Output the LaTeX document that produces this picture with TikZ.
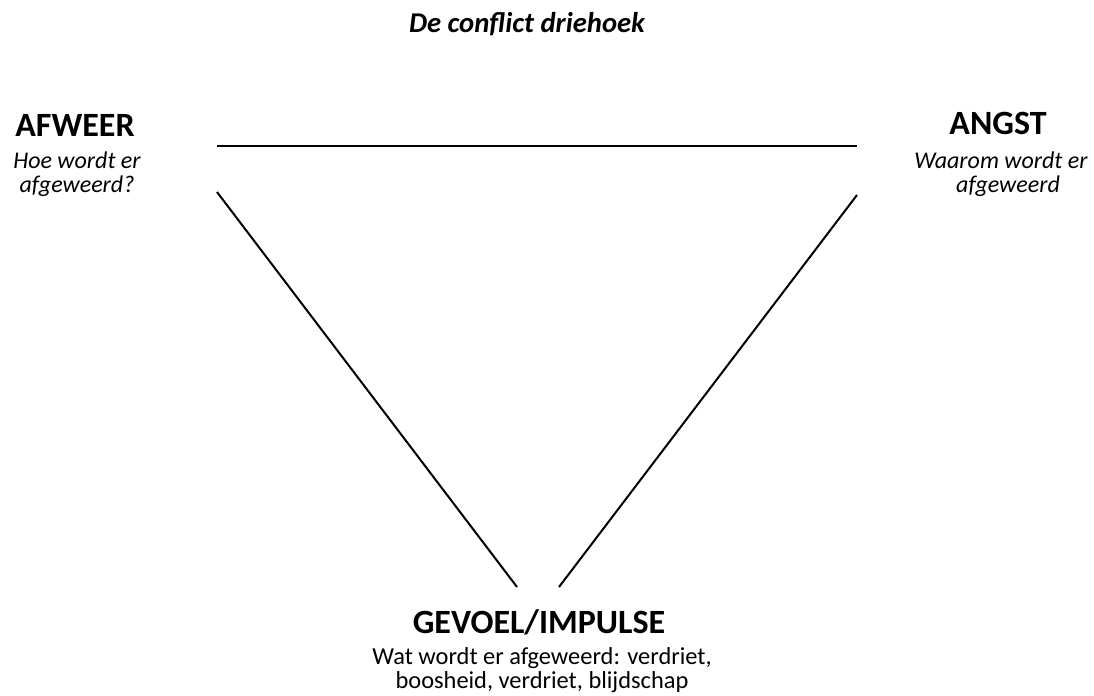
\documentclass[tikz,border=0pt]{standalone}
\usepackage{fontspec}
\setmainfont{Carlito}
\usepackage{tikz}

\begin{document}
\begin{tikzpicture}[x=0.75pt,y=-0.75pt,line width=1.5pt]

\useasboundingbox (0,0) rectangle (1094,695);

% Title
\node[anchor=base,font=\fontsize{21.5}{24}\selectfont\bfseries\itshape] (title) at (527,33){De conflict driehoek};

% Corner labels
\node[anchor=base,font=\fontsize{25.5}{30}\selectfont\bfseries] (afweer) at (75,137){AFWEER};
\node[anchor=base,font=\fontsize{18}{20}\selectfont\itshape] (afweer1) at (77,169){Hoe wordt er};
\node[anchor=base,font=\fontsize{18}{20}\selectfont\itshape] (afweer2) at (77,193){afgeweerd?};

\node[anchor=base,font=\fontsize{25.5}{30}\selectfont\bfseries] (angst) at (998,135){ANGST};
\node[anchor=base,font=\fontsize{18}{20}\selectfont\itshape] (angst1) at (1001,169){Waarom wordt er};
\node[anchor=base,font=\fontsize{18}{20}\selectfont\itshape] (angst2) at (1008,193){afgeweerd};

\node[anchor=base,font=\fontsize{25.5}{30}\selectfont\bfseries] (gevoel) at (539,633){GEVOEL/IMPULSE};
\node[anchor=base,font=\fontsize{18.3}{20}\selectfont] (gevoel1) at (542,664){Wat wordt er afgeweerd: verdriet,};
\node[anchor=base,font=\fontsize{18.3}{20}\selectfont] (gevoel2) at (542,688){boosheid, verdriet, blijdschap};

% Triangle sides (with gaps at the corners)
\coordinate (topL) at (217,146.5);
\coordinate (topR) at (857,146.5);
\coordinate (leftA) at (217,192);
\coordinate (leftB) at (517,587);
\coordinate (rightA) at (857,195);
\coordinate (rightB) at (559,587);

\draw (topL)--(topR);
\draw (leftA)--(leftB);
\draw (rightA)--(rightB);

\end{tikzpicture}
\end{document}
